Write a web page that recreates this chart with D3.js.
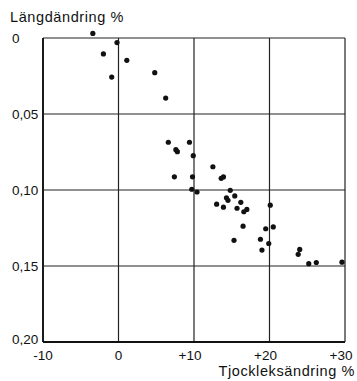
<!DOCTYPE html>
<html>
<head>
<meta charset="utf-8">
<script src="https://cdn.jsdelivr.net/npm/d3@7"></script>
<style>
  body { margin: 0; background: #fff; }
  text { font-family: "Liberation Sans", Arial, sans-serif; fill: #111; }
</style>
</head>
<body>
<div id="graph"></div>
<script>
// thickness change (%) vs length change (%)
const thick = [-3.4, -0.2, -2.0, 1.1, -0.9, 4.8, 6.25, 6.6, 9.4, 7.6, 7.8, 9.9, 12.5, 7.4, 9.8,
  13.6, 13.9, 9.7, 10.4, 14.8, 15.4, 14.3, 14.5, 16.2, 13.0, 13.9, 15.7, 16.6, 17.0, 20.1,
  16.5, 19.5, 20.5, 15.3, 18.8, 19.9, 19.0, 24.0, 23.8, 25.2, 26.2, 29.6];
const lengthChg = [-0.003, 0.003, 0.0105, 0.0147, 0.0257, 0.0228, 0.0395, 0.0686, 0.0686, 0.0735, 0.0748, 0.0774, 0.0847, 0.0913, 0.0913,
  0.0923, 0.0914, 0.0995, 0.1013, 0.1002, 0.1039, 0.1051, 0.1068, 0.1081, 0.1093, 0.1113, 0.1120, 0.1143, 0.1128, 0.110,
  0.1238, 0.1255, 0.1243, 0.1331, 0.1324, 0.1352, 0.1395, 0.1391, 0.1423, 0.1485, 0.1477, 0.1475];
const xTicks = [-10, 0, 10, 20, 30];
const xTickLabels = ["-10", "0", "+10", "+20", "+30"];
const yTicks = [0, 0.05, 0.10, 0.15, 0.20];
const yTickLabels = ["0", "0,05", "0,10", "0,15", "0,20"];

document.addEventListener('DOMContentLoaded', () => {
  let width = 357, height = 381;
  let left = 43, right = 345, top = 38, bottom = 342;
  let x = d3.scaleLinear().domain([-10, 30]).range([left, right]);
  let y = d3.scaleLinear().domain([0, 0.20]).range([top, bottom]);

  let svg = d3.select("#graph").append('svg').attr("width", width).attr("height", height);

  // grid
  svg.selectAll("line.vg").data(xTicks).enter().append("line")
    .attr("x1", d => x(d)).attr("x2", d => x(d))
    .attr("y1", top).attr("y2", bottom)
    .attr("stroke", "#222").attr("stroke-width", 1.2);
  svg.selectAll("line.hg").data(yTicks).enter().append("line")
    .attr("x1", left).attr("x2", right)
    .attr("y1", d => y(d)).attr("y2", d => y(d))
    .attr("stroke", "#222").attr("stroke-width", 1.2);
  // heavier left and bottom axes
  svg.append("line").attr("x1", left).attr("x2", left).attr("y1", top).attr("y2", bottom)
    .attr("stroke", "#111").attr("stroke-width", 1.8);
  svg.append("line").attr("x1", left).attr("x2", right).attr("y1", bottom).attr("y2", bottom)
    .attr("stroke", "#111").attr("stroke-width", 1.8);

  // tick labels
  svg.selectAll("text.yl").data(yTicks).enter().append("text")
    .attr("x", 12).attr("y", d => d === 0.20 ? y(d) + 2 : y(d) + 5)
    .attr("font-size", 13.5)
    .text((d, i) => yTickLabels[i]);
  svg.selectAll("text.xl").data(xTicks).enter().append("text")
    .attr("x", d => x(d) - (d > 0 ? 4 : 0)).attr("y", 360)
    .attr("text-anchor", "middle")
    .attr("font-size", 13.5)
    .text((d, i) => xTickLabels[i]);

  // axis titles
  svg.append("text").attr("x", 10).attr("y", 22).attr("font-size", 14.5)
    .attr("letter-spacing", 0.6).text("Längdändring %");
  svg.append("text").attr("x", 355).attr("y", 376).attr("font-size", 14.5)
    .attr("text-anchor", "end").attr("letter-spacing", 0.6).text("Tjockleksändring %");

  // points
  let data = thick.map((t, i) => ({t: t, l: lengthChg[i]}));
  svg.selectAll("circle").data(data).enter().append("circle")
    .attr("cx", d => x(d.t)).attr("cy", d => y(d.l)).attr("r", 2.6)
    .attr("fill", "#111");
});
</script>
</body>
</html>
